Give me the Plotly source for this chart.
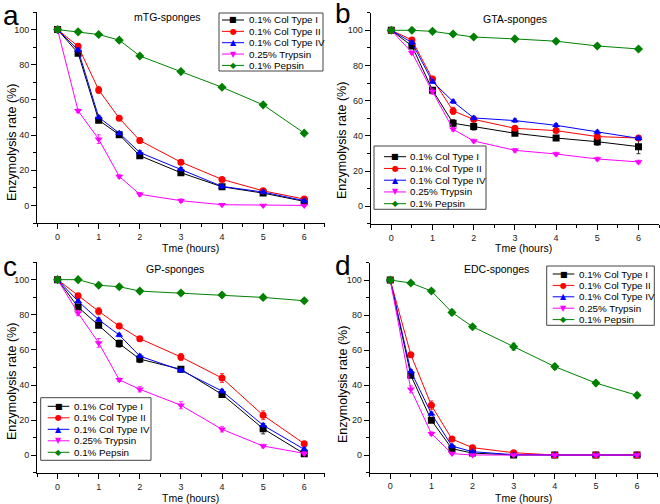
import plotly.graph_objs as go

# sampling times (hours)
times = [0, 0.5, 1, 1.5, 2, 3, 4, 5, 6]

series_names = ["0.1% Col Type I", "0.1% Col Type II", "0.1% Col Type IV", "0.25% Trypsin", "0.1% Pepsin"]
panel_titles = ["mTG-sponges", "GTA-sponges", "GP-sponges", "EDC-sponges"]
panel_letters = ["a", "b", "c", "d"]
x_title = "Tme (hours)"
y_title = "Enzymolysis rate (%)"

# a: mTG-sponges
mtg_col1 = [100, 86.6, 48.5, 40.2, 28.3, 18.6, 10.6, 7.0, 2.3]
mtg_col2 = [100, 90.5, 65.7, 49.6, 36.9, 24.6, 14.8, 8.3, 3.6]
mtg_col4 = [100, 88.4, 50.2, 41.1, 30.1, 20.6, 10.8, 7.6, 2.7]
mtg_tryp = [100, 53.8, 37.7, 16.5, 6.3, 2.7, 0.4, 0, 0]
mtg_peps = [100, 98.7, 97.2, 94.0, 85.0, 76.1, 67.2, 57.2, 41.1]
mtg_err = [
    [0.5, 1, 1, 1, 1, 1, 1, 1, 1],
    [0.5, 1, 2, 1, 1.5, 1, 1, 1, 1],
    [0.5, 1, 1, 1, 1, 1, 1, 1, 1],
    [0.5, 1, 2.5, 1, 1, 1, 0.5, 0.5, 0.5],
    [0.5, 0.5, 0.5, 1, 1, 1, 1, 1, 1],
]

# b: GTA-sponges
gta_col1 = [100, 91.1, 66.0, 47.2, 45.3, 41.5, 38.8, 36.7, 33.9]
gta_col2 = [100, 94.5, 72.3, 54.2, 49.4, 44.3, 43.0, 39.6, 38.8]
gta_col4 = [100, 93.0, 70.8, 59.5, 50.2, 48.7, 46.0, 42.2, 38.6]
gta_tryp = [100, 87.3, 65.2, 43.8, 37.1, 31.8, 29.7, 26.9, 25.2]
gta_peps = [100, 100, 99.4, 97.9, 96.2, 95.1, 93.8, 91.1, 89.4]
gta_err = [
    [0.5, 1, 1, 2, 2, 1, 1, 2, 4],
    [0.5, 1, 1.5, 2, 1, 1, 1, 1, 1],
    [0.5, 1, 1, 1, 1, 1, 1, 1, 1],
    [0.5, 1, 1.5, 1, 1, 1, 1, 1, 1],
    [0.5, 0.5, 0.5, 1, 1, 1, 1, 1, 1],
]

# c: GP-sponges
gp_col1 = [100, 84.4, 74.0, 63.6, 54.8, 49.0, 34.7, 15.2, 0.9]
gp_col2 = [100, 90.9, 82.0, 73.6, 66.4, 56.0, 44.0, 22.8, 6.6]
gp_col4 = [100, 87.7, 77.2, 68.5, 56.5, 48.4, 36.6, 17.1, 3.4]
gp_tryp = [100, 81.0, 64.0, 43.0, 37.6, 28.5, 14.8, 5.3, 1.1]
gp_peps = [100, 100, 96.8, 96.0, 93.5, 92.4, 91.3, 89.9, 88.0]
gp_err = [
    [0.5, 1.5, 1, 2, 2, 1.5, 1, 3, 1],
    [0.5, 1, 2, 1, 1, 2, 2.5, 2.5, 1],
    [0.5, 1, 1, 1, 1, 1, 1, 1, 1],
    [0.5, 1.5, 2.5, 1, 1.5, 2, 1.5, 1, 1],
    [0.5, 0.5, 0.5, 0.5, 1, 1, 1, 1, 1],
]

# d: EDC-sponges
edc_col1 = [100, 45.5, 19.8, 3.6, 1.1, 0, 0, 0, 0]
edc_col2 = [100, 57.3, 28.4, 9.1, 4.2, 1.3, 0, 0, 0]
edc_col4 = [100, 47.8, 23.6, 5.1, 1.9, 0.2, 0, 0, 0]
edc_tryp = [100, 37.5, 12.2, 0.8, 0, 0, 0, 0, 0]
edc_peps = [100, 98.3, 93.7, 81.5, 73.3, 61.9, 50.5, 41.1, 34.1]
edc_err = [
    [0.5, 1, 1, 1, 0.5, 0, 0, 0, 0],
    [0.5, 1, 2.5, 1, 1, 0.5, 0, 0, 0],
    [0.5, 1, 1, 1, 0.5, 0, 0, 0, 0],
    [0.5, 2, 1, 0.5, 0, 0, 0, 0, 0],
    [0.5, 0.5, 1, 1.5, 1, 2, 1.5, 1.5, 1.5],
]

panels = [
    [mtg_col1, mtg_col2, mtg_col4, mtg_tryp, mtg_peps],
    [gta_col1, gta_col2, gta_col4, gta_tryp, gta_peps],
    [gp_col1, gp_col2, gp_col4, gp_tryp, gp_peps],
    [edc_col1, edc_col2, edc_col4, edc_tryp, edc_peps],
]
panel_errs = [mtg_err, gta_err, gp_err, edc_err]

colors = ["#000000", "#FF0000", "#0000FF", "#FF00FF", "#008000"]
symbols = ["square", "circle", "triangle-up", "triangle-down", "diamond"]
glyphs = ["\u25A0", "\u25CF", "\u25B2", "\u25BC", "\u25C6"]

W, H = 660, 504
FONT = "Arial, Liberation Sans, sans-serif"


def px(x):
    return x / W


def py(y):
    return 1 - y / H


# plot areas in pixels: (left, right, top, bottom)
boxes = [
    (37, 324.8, 12, 223),
    (370.7, 659.1, 12.7, 223.9),
    (37, 324.8, 262.1, 472.9),
    (369.7, 657.6, 262.5, 472.5),
]

fig = go.Figure()

for p in range(4):
    ax = "" if p == 0 else str(p + 1)
    for s in range(5):
        fig.add_trace(go.Scatter(
            x=times,
            y=panels[p][s],
            name=series_names[s],
            mode="lines+markers",
            line=dict(color=colors[s], width=1),
            marker=dict(symbol=symbols[s], color=colors[s], size=7),
            error_y=dict(type="data", array=panel_errs[p][s], color=colors[s],
                         thickness=0.8, width=2),
            xaxis="x" + ax,
            yaxis="y" + ax,
            showlegend=False,
        ))

axis_common = dict(
    showline=True, linecolor="black", linewidth=1, mirror=False,
    showgrid=False, zeroline=False,
    ticks="outside", ticklen=5, tickcolor="black", tickwidth=1,
    tickfont=dict(family=FONT, size=9, color="#222"),
    automargin=False,
)

layout = dict(
    width=W, height=H,
    margin=dict(l=0, r=0, t=0, b=0),
    paper_bgcolor="white", plot_bgcolor="white",
    font=dict(family=FONT, color="black"),
    showlegend=False,
)

for p in range(4):
    ax = "" if p == 0 else str(p + 1)
    l, r, t, b = boxes[p]
    layout["xaxis" + ax] = dict(
        axis_common,
        domain=[px(l), px(r)], anchor="y" + ax,
        range=[-0.5, 6.5], tickmode="array", tickvals=[0, 1, 2, 3, 4, 5, 6],
        minor=dict(tickvals=[-0.5, 0.5, 1.5, 2.5, 3.5, 4.5, 5.5, 6.5], ticks="outside",
                   ticklen=3, tickcolor="black"),
    )
    layout["yaxis" + ax] = dict(
        axis_common,
        domain=[py(b), py(t)], anchor="x" + ax,
        range=[-10, 110], tickmode="array", tickvals=[0, 20, 40, 60, 80, 100],
        minor=dict(tickvals=[-10, 10, 30, 50, 70, 90, 110], ticks="outside",
                   ticklen=3, tickcolor="black"),
    )

annotations = []
shapes = []

# panel letters
letter_pos = [(1, 15), (333, 13), (1, 266), (333, 265)]
# panel titles inside the plot area
title_pos = [(168, 17), (515, 19), (175, 268.7), (496.7, 269)]
# axis titles (Origin centres them a bit off the plot area)
xt_pos = [(190, 247.5), (523, 247.5), (190, 497.5), (523, 497.5)]
yt_pos = [(12, 143), (342, 141), (12, 382), (343, 385)]

for p in range(4):
    annotations.append(dict(
        text=panel_letters[p], xref="paper", yref="paper",
        x=px(letter_pos[p][0]), y=py(letter_pos[p][1]), xanchor="left", yanchor="middle",
        showarrow=False, font=dict(family=FONT, size=28, color="black"),
    ))
    annotations.append(dict(
        text=panel_titles[p], xref="paper", yref="paper",
        x=px(title_pos[p][0]), y=py(title_pos[p][1]), xanchor="center", yanchor="middle",
        showarrow=False, font=dict(family=FONT, size=10.5, color="black"),
    ))
    annotations.append(dict(
        text=x_title, xref="paper", yref="paper",
        x=px(xt_pos[p][0]), y=py(xt_pos[p][1]), xanchor="center", yanchor="middle",
        showarrow=False, font=dict(family=FONT, size=10.5, color="black"),
    ))
    annotations.append(dict(
        text=y_title, xref="paper", yref="paper", textangle=-90,
        x=px(yt_pos[p][0]), y=py(yt_pos[p][1]), xanchor="center", yanchor="middle",
        showarrow=False, font=dict(family=FONT, size=12.5, color="black"),
    ))

# legends: box (x0, y0, x1, y1), first row y, row step, line x0, line x1, text x
legends = [
    ((219, 13, 323, 71), 20, 11.35, 222, 244, 247),
    ((374, 146, 486, 209.3), 156.7, 11.75, 384, 406, 408),
    ((40.7, 397.7, 151, 460.3), 406.3, 11.5, 47.7, 69.3, 71.7),
    ((546.7, 266, 654.3, 325.3), 274, 11.4, 552.7, 574.3, 576.7),
]
for (bx, row0, step, lx0, lx1, tx) in legends:
    shapes.append(dict(type="rect", xref="paper", yref="paper",
                       x0=px(bx[0]), y0=py(bx[1]), x1=px(bx[2]), y1=py(bx[3]),
                       line=dict(color="#444", width=1), fillcolor="white", layer="above"))
    for s in range(5):
        ry = row0 + s * step
        shapes.append(dict(type="line", xref="paper", yref="paper",
                           x0=px(lx0), y0=py(ry), x1=px(lx1), y1=py(ry),
                           line=dict(color=colors[s], width=1), layer="above"))
        annotations.append(dict(
            text=glyphs[s], xref="paper", yref="paper",
            x=px((lx0 + lx1) / 2), y=py(ry), xanchor="center", yanchor="middle",
            showarrow=False, font=dict(family="DejaVu Sans", size=8, color=colors[s]),
        ))
        annotations.append(dict(
            text=series_names[s], xref="paper", yref="paper",
            x=px(tx), y=py(ry), xanchor="left", yanchor="middle",
            showarrow=False, font=dict(family=FONT, size=9.8, color="black"),
        ))

layout["annotations"] = annotations
layout["shapes"] = shapes

fig.update_layout(layout)
# the page's default 8px body margin would push the 660x504 figure off the window
fig.write_html("out.html", config={"displayModeBar": False},
               post_script="document.body.style.margin = '0px';")
